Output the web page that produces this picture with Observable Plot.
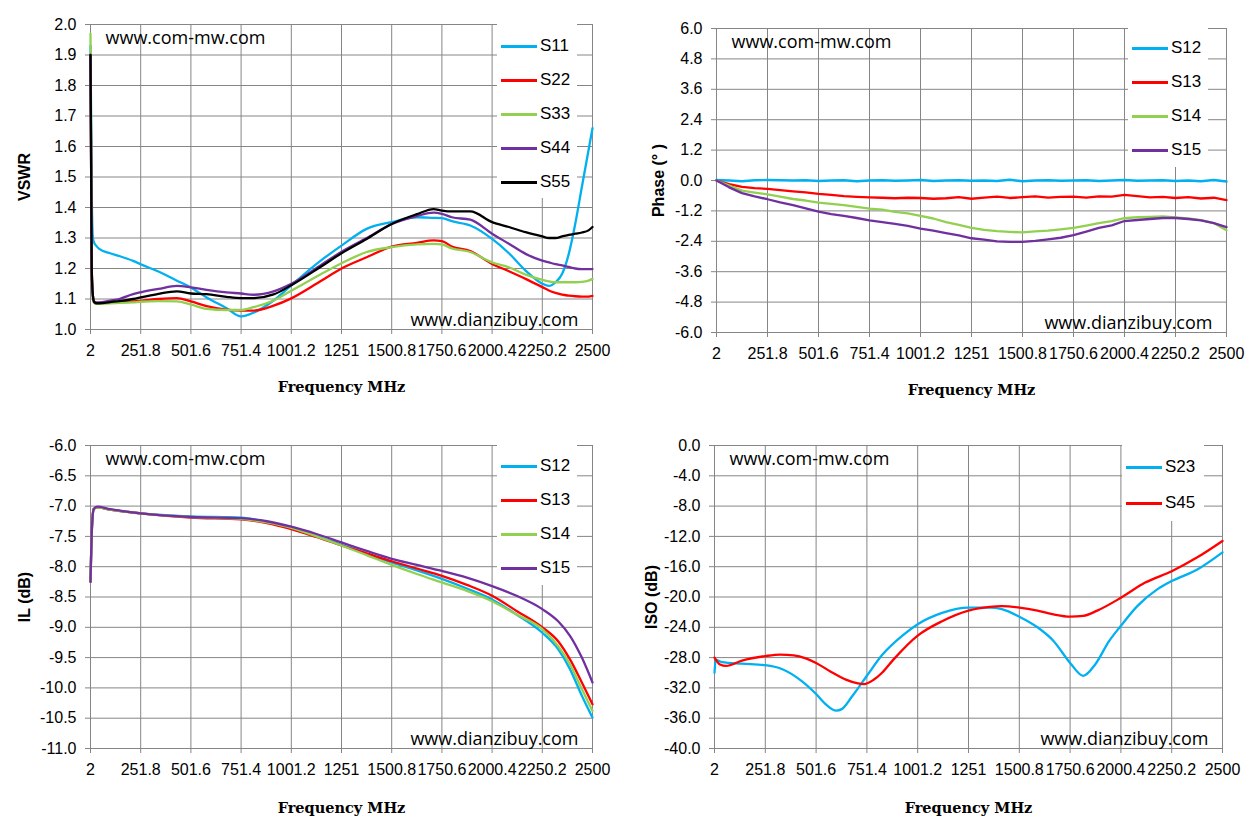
<!DOCTYPE html>
<html><head><meta charset="utf-8">
<script src="https://cdn.jsdelivr.net/npm/d3@7"></script>
<script src="https://cdn.jsdelivr.net/npm/@observablehq/plot@0.6"></script>
<style>
body{margin:0;background:#fff;}
#root{position:relative;width:1257px;height:833px;background:#fff;overflow:hidden;}
.panel{position:absolute;}
.panel svg{overflow:visible;}
.legend{position:absolute;background:#fff;}
.legend .item{position:absolute;left:4px;height:20px;display:flex;align-items:center;font-size:17px;font-family:"Liberation Sans",Arial,sans-serif;color:#000;}
.legend .sw{width:36px;height:3px;margin-right:3px;}
g[aria-label="x-axis label"] text{font-family:"DejaVu Serif",serif;font-weight:bold;font-size:14.5px;letter-spacing:0px;}
g[aria-label="y-axis label"] text{font-family:"Liberation Sans",Arial,sans-serif;font-weight:bold;font-size:16px;}
g[aria-label="x-axis tick"], g[aria-label="y-axis tick"]{stroke:#868686;}
</style>
</head><body><div id="root"></div>
<script>
// ---------- shared x axis ----------
const xTickValues = [2, 251.8, 501.6, 751.4, 1001.2, 1251, 1500.8, 1750.6, 2000.4, 2250.2, 2500];
const xTickLabels = ["2", "251.8", "501.6", "751.4", "1001.2", "1251", "1500.8", "1750.6", "2000.4", "2250.2", "2500"];
const watermarkTop = "www.com-mw.com";
const watermarkBottom = "www.dianzibuy.com";

// ---------- VSWR panel ----------
const vswrNames = ["S11", "S22", "S33", "S44", "S55"];
const vswrColors = ["#00B0F0", "#FF0000", "#92D050", "#7030A0", "#000000"];
const vswrTicks = [1.0, 1.1, 1.2, 1.3, 1.4, 1.5, 1.6, 1.7, 1.8, 1.9, 2.0];
const vswrFreq = [2, 8, 14, 20, 30, 44, 100, 145, 214, 251.8, 340, 432, 501.6, 580, 679, 751.4, 813, 913, 1001.2, 1146, 1251, 1376, 1500.8, 1626, 1709, 1750.6, 1800, 1892, 2000.4, 2084, 2167, 2250.2, 2283, 2316, 2349, 2382, 2414, 2447, 2480, 2500];
const vswrS11 = [1.93, 1.45, 1.30, 1.285, 1.275, 1.265, 1.25, 1.241, 1.225, 1.214, 1.19, 1.16, 1.138, 1.105, 1.07, 1.043, 1.055, 1.095, 1.145, 1.225, 1.275, 1.33, 1.352, 1.368, 1.366, 1.365, 1.355, 1.341, 1.297, 1.25, 1.193, 1.15, 1.143, 1.155, 1.183, 1.248, 1.346, 1.467, 1.587, 1.66];
const vswrS22 = [1.90, 1.20, 1.11, 1.09, 1.086, 1.086, 1.089, 1.09, 1.092, 1.094, 1.10, 1.103, 1.092, 1.077, 1.065, 1.062, 1.062, 1.078, 1.102, 1.158, 1.20, 1.237, 1.272, 1.284, 1.292, 1.29, 1.272, 1.257, 1.215, 1.191, 1.166, 1.139, 1.128, 1.12, 1.114, 1.111, 1.109, 1.108, 1.108, 1.11];
const vswrS33 = [1.97, 1.22, 1.10, 1.087, 1.084, 1.084, 1.086, 1.087, 1.089, 1.091, 1.093, 1.092, 1.082, 1.068, 1.064, 1.064, 1.073, 1.095, 1.127, 1.18, 1.217, 1.254, 1.27, 1.279, 1.281, 1.279, 1.266, 1.254, 1.22, 1.204, 1.18, 1.163, 1.158, 1.155, 1.155, 1.155, 1.155, 1.156, 1.16, 1.166];
const vswrS44 = [1.90, 1.20, 1.11, 1.092, 1.089, 1.089, 1.095, 1.10, 1.116, 1.122, 1.133, 1.143, 1.138, 1.13, 1.122, 1.118, 1.114, 1.125, 1.15, 1.21, 1.255, 1.30, 1.346, 1.372, 1.383, 1.379, 1.368, 1.36, 1.314, 1.281, 1.248, 1.226, 1.22, 1.214, 1.21, 1.205, 1.20, 1.198, 1.198, 1.198];
const vswrS55 = [1.90, 1.20, 1.11, 1.09, 1.086, 1.086, 1.09, 1.093, 1.10, 1.105, 1.117, 1.125, 1.118, 1.116, 1.107, 1.103, 1.103, 1.115, 1.145, 1.205, 1.25, 1.297, 1.346, 1.378, 1.395, 1.39, 1.387, 1.387, 1.352, 1.336, 1.319, 1.305, 1.30, 1.30, 1.305, 1.31, 1.314, 1.318, 1.325, 1.336];

// ---------- Phase panel ----------
const phaseNames = ["S12", "S13", "S14", "S15"];
const phaseColors = ["#00B0F0", "#FF0000", "#92D050", "#7030A0"];
const phaseTicks = [-6.0, -4.8, -3.6, -2.4, -1.2, 0.0, 1.2, 2.4, 3.6, 4.8, 6.0];
const phaseFreq = [2, 64, 127, 189, 252, 314, 377, 439, 502, 564, 626, 689, 751, 814, 876, 939, 1001, 1064, 1126, 1189, 1251, 1313, 1376, 1438, 1501, 1563, 1626, 1688, 1751, 1813, 1875, 1938, 2000, 2063, 2125, 2188, 2250, 2313, 2375, 2438, 2500];
const phaseS12 = [0.02, 0.0, -0.03, 0.01, 0.02, 0.01, 0.0, 0.01, -0.02, 0.0, 0.01, -0.03, 0.0, 0.01, -0.01, 0.0, 0.02, -0.02, 0.0, 0.01, -0.01, 0.0, -0.02, 0.03, -0.03, 0.0, 0.01, -0.01, 0.0, 0.01, -0.02, 0.0, 0.02, -0.01, 0.0, 0.01, -0.02, 0.0, -0.03, 0.02, -0.04];
const phaseS13 = [0.0, -0.14, -0.25, -0.30, -0.33, -0.38, -0.43, -0.47, -0.53, -0.57, -0.62, -0.65, -0.67, -0.68, -0.70, -0.68, -0.69, -0.72, -0.70, -0.66, -0.72, -0.68, -0.64, -0.69, -0.66, -0.63, -0.68, -0.65, -0.64, -0.68, -0.63, -0.64, -0.57, -0.62, -0.67, -0.65, -0.69, -0.66, -0.71, -0.68, -0.77];
const phaseS14 = [0.0, -0.20, -0.40, -0.48, -0.55, -0.64, -0.73, -0.79, -0.87, -0.92, -0.97, -1.04, -1.11, -1.15, -1.24, -1.30, -1.40, -1.50, -1.64, -1.75, -1.87, -1.95, -2.00, -2.03, -2.05, -2.01, -1.98, -1.93, -1.87, -1.78, -1.68, -1.60, -1.49, -1.45, -1.44, -1.42, -1.46, -1.50, -1.56, -1.68, -1.96];
const phaseS15 = [0.0, -0.27, -0.50, -0.63, -0.74, -0.86, -0.97, -1.10, -1.23, -1.33, -1.40, -1.48, -1.57, -1.64, -1.71, -1.79, -1.90, -1.98, -2.08, -2.17, -2.28, -2.33, -2.40, -2.42, -2.42, -2.38, -2.32, -2.26, -2.16, -2.02, -1.87, -1.77, -1.60, -1.56, -1.52, -1.48, -1.48, -1.52, -1.57, -1.68, -1.84];

// ---------- IL panel ----------
const ilNames = ["S12", "S13", "S14", "S15"];
const ilColors = ["#00B0F0", "#FF0000", "#92D050", "#7030A0"];
const ilTicks = [-11.0, -10.5, -10.0, -9.5, -9.0, -8.5, -8.0, -7.5, -7.0, -6.5, -6.0];
const ilFreq = [2, 10, 18, 35, 100, 251.8, 501.6, 751.4, 880, 1001.2, 1126, 1251, 1376, 1500.8, 1626, 1750.6, 1875, 2000.4, 2122, 2250.2, 2329, 2388, 2447, 2500];
const ilS12 = [-8.25, -7.30, -7.05, -7.02, -7.06, -7.12, -7.17, -7.19, -7.26, -7.35, -7.50, -7.64, -7.79, -7.93, -8.06, -8.20, -8.36, -8.54, -8.79, -9.09, -9.36, -9.69, -10.13, -10.49];
const ilS13 = [-8.25, -7.30, -7.05, -7.02, -7.06, -7.12, -7.19, -7.22, -7.28, -7.38, -7.51, -7.65, -7.78, -7.91, -8.03, -8.15, -8.30, -8.48, -8.73, -9.00, -9.23, -9.53, -9.91, -10.27];
const ilS14 = [-8.25, -7.30, -7.05, -7.02, -7.06, -7.12, -7.18, -7.21, -7.27, -7.36, -7.50, -7.65, -7.81, -7.97, -8.12, -8.26, -8.40, -8.57, -8.79, -9.03, -9.31, -9.61, -10.02, -10.38];
const ilS15 = [-8.25, -7.30, -7.05, -7.01, -7.05, -7.12, -7.18, -7.20, -7.25, -7.34, -7.46, -7.60, -7.74, -7.87, -7.97, -8.07, -8.18, -8.32, -8.48, -8.70, -8.90, -9.14, -9.50, -9.91];

// ---------- ISO panel ----------
const isoNames = ["S23", "S45"];
const isoColors = ["#00B0F0", "#FF0000"];
const isoTicks = [-40, -36, -32, -28, -24, -20, -16, -12, -8, -4, 0];
const isoS23Freq = [2, 8, 39, 137, 251.8, 333, 431, 501.6, 551, 600, 628, 679, 751.4, 828, 926, 1001.2, 1121, 1251, 1356, 1415, 1500.8, 1590, 1669, 1750.6, 1815, 1874, 1943, 2000.4, 2081, 2179, 2250.2, 2374, 2500];
const isoS23 = [-30.0, -28.3, -28.6, -28.8, -29.0, -29.5, -31.1, -32.8, -34.2, -35.0, -34.8, -33.1, -30.4, -27.6, -25.1, -23.6, -22.1, -21.4, -21.4, -21.6, -22.6, -24.0, -25.8, -28.7, -30.4, -28.9, -25.8, -23.8, -21.2, -19.0, -17.9, -16.4, -14.1];
const isoS45Freq = [2, 29, 59, 137, 251.8, 324, 392, 451, 501.6, 570, 648, 707, 737, 786, 826, 884, 1001.2, 1121, 1251, 1356, 1415, 1500.8, 1590, 1669, 1750.6, 1815, 1884, 2000.4, 2120, 2250.2, 2374, 2500];
const isoS45 = [-28.0, -28.9, -29.1, -28.4, -27.8, -27.6, -27.7, -28.1, -28.7, -29.8, -30.9, -31.4, -31.5, -30.9, -30.0, -28.2, -25.1, -23.2, -21.8, -21.3, -21.2, -21.4, -21.8, -22.3, -22.6, -22.5, -21.8, -20.1, -18.1, -16.6, -14.8, -12.6];

// ---------- helpers ----------
function rowsOf(names, freqs, values) {
  const out = [];
  names.forEach((n, i) => freqs[i].forEach((f, j) => out.push({s: n, f, v: values[i][j]})));
  return out;
}
const GRID = "#868686";
const root = document.getElementById("root");

function panel(cfg) {
  const div = document.createElement("div");
  div.className = "panel";
  div.style.left = cfg.left + "px";
  div.style.top = cfg.top + "px";
  div.style.width = cfg.width + "px";
  div.style.height = cfg.height + "px";
  const rows = rowsOf(cfg.names, cfg.freqs, cfg.values);
  const chart = Plot.plot({
    width: cfg.width, height: cfg.height,
    marginTop: cfg.mt, marginRight: cfg.mr, marginBottom: cfg.mb, marginLeft: cfg.ml,
    style: {fontFamily: "'Liberation Sans', Arial, sans-serif", fontSize: "16px", color: "#000", background: "transparent"},
    x: {domain: [2, 2500]},
    y: {domain: cfg.yDomain},
    color: {domain: cfg.names, range: cfg.colors},
    marks: [
      Plot.gridY(cfg.yTicks, {stroke: GRID, strokeOpacity: 1, strokeWidth: 1}),
      Plot.gridX(xTickValues, {stroke: GRID, strokeOpacity: 1, strokeWidth: 1}),
      Plot.axisX(xTickValues, {tickFormat: d => xTickLabels[xTickValues.indexOf(d)], tickSize: 5, tickPadding: 10, label: "Frequency MHz", labelArrow: "none", labelAnchor: "center", labelOffset: cfg.xLabelOffset, fontSize: 16}),
      Plot.axisY(cfg.yTicks, {tickFormat: d => d.toFixed(1), tickSize: 5, tickPadding: 9, label: cfg.yLabel, labelArrow: "none", labelAnchor: "center", labelOffset: cfg.yLabelOffset, fontSize: 16}),
      Plot.line(rows, {x: "f", y: "v", z: "s", stroke: "s", strokeWidth: 2.3, curve: cfg.curve}),
      Plot.text([watermarkTop], {text: d => d, frameAnchor: "top-left", dx: 15, dy: 7, fontSize: 18, fill: "#000", fontFamily: "'Open Sans', sans-serif"}),
      Plot.text([watermarkBottom], {text: d => d, frameAnchor: "bottom-right", dx: -14, dy: -4, fontSize: 18, fill: "#000", fontFamily: "'Open Sans', sans-serif"})
    ]
  });
  div.appendChild(chart);
  // legend box (white, covers grid)
  const lg = document.createElement("div");
  lg.className = "legend";
  lg.style.left = cfg.legend.left + "px";
  lg.style.top = cfg.legend.top + "px";
  lg.style.width = cfg.legend.width + "px";
  lg.style.height = cfg.legend.height + "px";
  cfg.names.forEach((n, i) => {
    const it = document.createElement("div");
    it.className = "item";
    it.style.top = (cfg.legend.first + i * cfg.legend.step - 10) + "px";
    const sw = document.createElement("span");
    sw.className = "sw";
    sw.style.background = cfg.colors[i];
    const tx = document.createElement("span");
    tx.textContent = n;
    it.appendChild(sw); it.appendChild(tx);
    lg.appendChild(it);
  });
  div.appendChild(lg);
  root.appendChild(div);
}

panel({
  left: 0, top: 0, width: 628, height: 416, mt: 24, mr: 36, mb: 87, ml: 90,
  yDomain: [1.0, 2.0], yTicks: vswrTicks, yLabel: "VSWR", yLabelOffset: 72, xLabelOffset: 62,
  names: vswrNames, colors: vswrColors, curve: "monotone-x",
  freqs: [vswrFreq, vswrFreq, vswrFreq, vswrFreq, vswrFreq],
  values: [vswrS11, vswrS22, vswrS33, vswrS44, vswrS55],
  legend: {left: 497, top: 24, width: 80, height: 174, first: 22, step: 34}
});
panel({
  left: 628, top: 0, width: 629, height: 416, mt: 28, mr: 31, mb: 84, ml: 88,
  yDomain: [-6.0, 6.0], yTicks: phaseTicks, yLabel: "Phase (° )", yLabelOffset: 64, xLabelOffset: 62,
  names: phaseNames, colors: phaseColors, curve: "linear",
  freqs: [phaseFreq, phaseFreq, phaseFreq, phaseFreq],
  values: [phaseS12, phaseS13, phaseS14, phaseS15],
  legend: {left: 500, top: 28, width: 80, height: 139, first: 20, step: 34}
});
panel({
  left: 0, top: 416, width: 628, height: 417, mt: 29, mr: 36, mb: 85, ml: 90,
  yDomain: [-11.0, -6.0], yTicks: ilTicks, yLabel: "IL (dB)", yLabelOffset: 72, xLabelOffset: 64,
  names: ilNames, colors: ilColors, curve: "monotone-x",
  freqs: [ilFreq, ilFreq, ilFreq, ilFreq],
  values: [ilS12, ilS13, ilS14, ilS15],
  legend: {left: 497, top: 29, width: 80, height: 140, first: 21, step: 34}
});
panel({
  left: 628, top: 416, width: 629, height: 417, mt: 29, mr: 35, mb: 85, ml: 86,
  yDomain: [-40, 0], yTicks: isoTicks, yLabel: "ISO (dB)", yLabelOffset: 69, xLabelOffset: 64,
  names: isoNames, colors: isoColors, curve: "monotone-x",
  freqs: [isoS23Freq, isoS45Freq],
  values: [isoS23, isoS45],
  legend: {left: 494, top: 29, width: 82, height: 76, first: 22, step: 36}
});
</script>
</body></html>
